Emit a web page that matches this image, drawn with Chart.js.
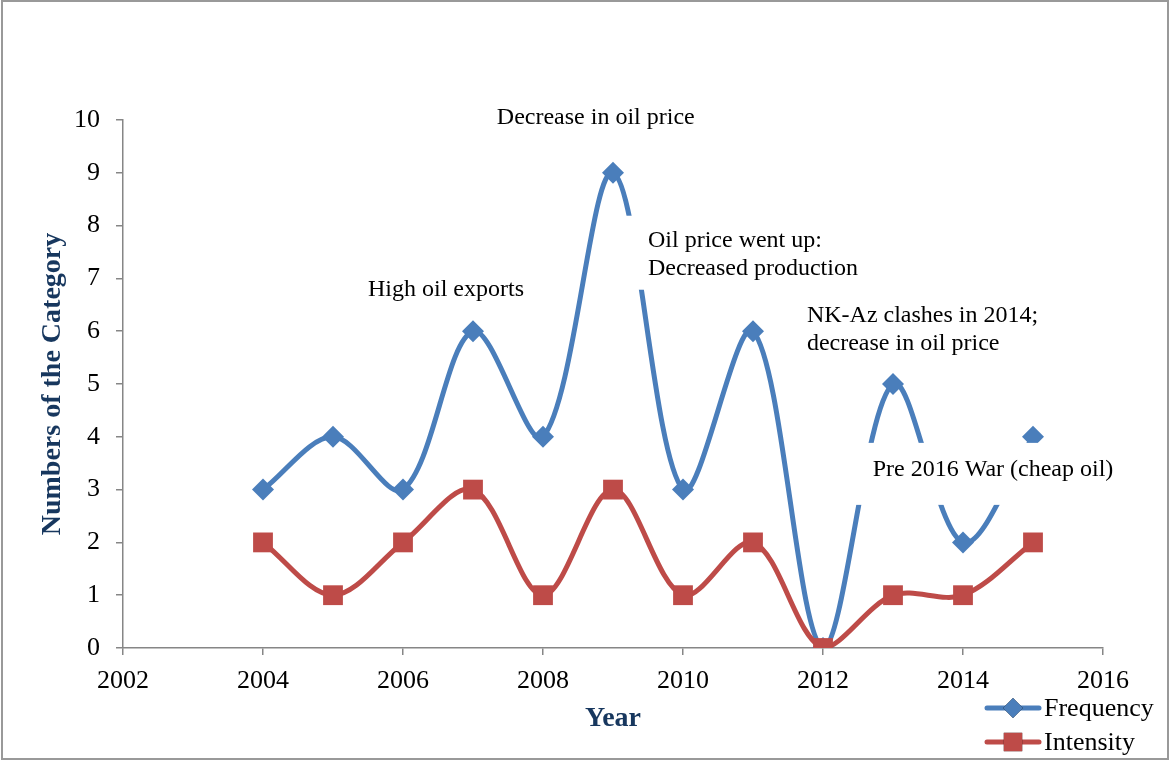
<!DOCTYPE html>
<html>
<head>
<meta charset="utf-8">
<script src="https://cdn.jsdelivr.net/npm/chart.js@4.4.1/dist/chart.umd.min.js"></script>
<style>
  html, body { margin: 0; padding: 0; background: #fff; }
  #chart { display: block; }
</style>
</head>
<body>
<canvas id="chart" width="1170" height="760"></canvas>
<script>
// yearly counts
var years = [2004, 2005, 2006, 2007, 2008, 2009, 2010, 2011, 2012, 2013, 2014, 2015];
var frequency = [3, 4, 3, 6, 4, 9, 3, 6, 0, 5, 2, 4];
var intensity = [2, 1, 2, 3, 1, 3, 1, 2, 0, 1, 1, 2];

var xMin = 2002, xMax = 2016, xStep = 2;
var yMin = 0, yMax = 10, yStep = 1;

// text notes on the plot, anchored at (year, value) of the first baseline
var notes = [
  ['Decrease in oil price'],
  ['High oil exports'],
  ['Oil price went up:', 'Decreased production'],
  ['NK-Az clashes in 2014;', 'decrease in oil price'],
  ['Pre 2016 War (cheap oil)']
];
var noteAnchors = [
  [2007.34, 9.92],
  [2005.50, 6.67],
  [2009.50, 7.60],
  [2011.77, 6.18],
  [2012.71, 3.26]
];
var notePads = [[31, 15], [31, 15], [31, 15], [31, 15], [33, 29]];

var SERIF = '"Liberation Serif", "Times New Roman", serif';
var BLUE = '#4A7EBB';
var RED = '#BE4B48';
var AXIS = '#868686';
var NAVY = '#17375E';

var frame = {
  id: 'frame',
  beforeDraw: function (chart) {
    var ctx = chart.ctx;
    ctx.save();
    ctx.fillStyle = '#fff';
    ctx.fillRect(0, 0, chart.width, chart.height);
    ctx.restore();
  },
  afterDraw: function (chart) {
    var ctx = chart.ctx;
    ctx.save();
    ctx.strokeStyle = '#999';
    ctx.lineWidth = 2;
    ctx.strokeRect(2, 1, chart.width - 4, chart.height - 2);
    ctx.restore();
  }
};

var noteBoxes = {
  id: 'noteBoxes',
  afterDatasetsDraw: function (chart) {
    var ctx = chart.ctx;
    var xs = chart.scales.x, ys = chart.scales.y;
    ctx.save();
    ctx.font = '24px ' + SERIF;
    ctx.textBaseline = 'alphabetic';
    ctx.textAlign = 'left';
    notes.forEach(function (lines, i) {
      var x = xs.getPixelForValue(noteAnchors[i][0]);
      var y = ys.getPixelForValue(noteAnchors[i][1]);
      var w = Math.max.apply(null, lines.map(function (l) { return ctx.measureText(l).width; }));
      var pad = notePads[i];
      ctx.fillStyle = '#fff';
      ctx.fillRect(x - 22, y - pad[0], w + 44, (lines.length - 1) * 28 + pad[0] + pad[1]);
      ctx.fillStyle = '#000';
      lines.forEach(function (l, j) { ctx.fillText(l, x, y + j * 28); });
    });
    ctx.restore();
  }
};

// legend in the lower right: line segment with the marker in the middle
var sideLegend = {
  id: 'sideLegend',
  afterDraw: function (chart) {
    var ctx = chart.ctx;
    ctx.save();
    chart.data.datasets.forEach(function (ds, i) {
      var y = 708 + i * 34;
      ctx.strokeStyle = ds.borderColor;
      ctx.lineWidth = 5;
      ctx.lineCap = 'round';
      ctx.beginPath();
      ctx.moveTo(987, y);
      ctx.lineTo(1039, y);
      ctx.stroke();
      Chart.helpers.drawPoint(ctx, {
        pointStyle: ds.pointStyle,
        radius: ds.pointStyle === 'rect' ? 13 : 10,
        borderWidth: 0
      }, 1013, y);
      ctx.fillStyle = ds.borderColor;
      ctx.fill();
      ctx.fillStyle = '#000';
      ctx.font = '26px ' + SERIF;
      ctx.textBaseline = 'middle';
      ctx.fillText(ds.label, 1044, y + 1);
    });
    ctx.restore();
  }
};

new Chart(document.getElementById('chart'), {
  type: 'line',
  data: {
    datasets: [
      {
        label: 'Frequency',
        data: years.map(function (yr, i) { return { x: yr, y: frequency[i] }; }),
        borderColor: BLUE,
        backgroundColor: BLUE,
        borderWidth: 5,
        pointStyle: 'rectRot',
        pointRadius: 11,
        pointBorderWidth: 0,
        tension: 0.33,
        order: 1
      },
      {
        label: 'Intensity',
        data: years.map(function (yr, i) { return { x: yr, y: intensity[i] }; }),
        borderColor: RED,
        backgroundColor: RED,
        borderWidth: 5,
        pointStyle: 'rect',
        pointRadius: 14,
        pointBorderWidth: 0,
        tension: 0.33,
        order: 0
      }
    ]
  },
  options: {
    responsive: false,
    animation: false,
    layout: { padding: { top: 120, right: 67, bottom: 0, left: 0 } },
    plugins: { legend: { display: false }, tooltip: { enabled: false } },
    scales: {
      x: {
        type: 'linear',
        min: xMin,
        max: xMax,
        afterFit: function (s) { s.height = 112; },
        ticks: {
          stepSize: xStep,
          maxRotation: 0,
          padding: 11,
          color: '#000',
          font: { family: SERIF, size: 26 },
          callback: function (v) { return String(v); }
        },
        grid: { drawOnChartArea: false, tickLength: 7, color: AXIS, lineWidth: 1.5 },
        border: { color: AXIS, width: 1.5 },
        title: {
          display: true,
          text: 'Year',
          color: NAVY,
          font: { family: SERIF, size: 28, weight: 'bold' },
          padding: { top: 0, bottom: 24 }
        }
      },
      y: {
        min: yMin,
        max: yMax,
        afterFit: function (s) { s.width = 123; },
        ticks: {
          stepSize: yStep,
          padding: 16,
          color: '#000',
          font: { family: SERIF, size: 26 }
        },
        grid: { drawOnChartArea: false, tickLength: 7, color: AXIS, lineWidth: 1.5 },
        border: { color: AXIS, width: 1.5 },
        title: {
          display: true,
          text: 'Numbers of the Category',
          color: NAVY,
          font: { family: SERIF, size: 28, weight: 'bold' },
          padding: { top: 36, bottom: 0 }
        }
      }
    }
  },
  plugins: [frame, noteBoxes, sideLegend]
});
</script>
</body>
</html>
